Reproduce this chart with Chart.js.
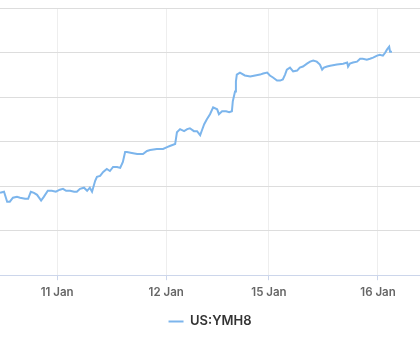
<!DOCTYPE html>
<html>
<head>
<meta charset="utf-8">
<style>
  html, body { margin: 0; padding: 0; background: #fff; }
  #wrap { width: 420px; height: 350px; }
</style>
<script src="https://cdn.jsdelivr.net/npm/chart.js@4.4.1/dist/chart.umd.min.js"></script>
</head>
<body>
<div id="wrap"><canvas id="priceChart"></canvas></div>
<script>
// hours since start of the visible window
const hours = [
  0, 0.9, 1.6, 2.2, 2.9, 3.8, 4.5, 5.6, 6.3, 6.9, 7.6, 8.3, 9.2, 9.8, 10.7, 11.6,
  12.5, 13.4, 14.1, 14.8, 15.7, 16.6, 17.2, 17.9, 18.8, 19.5, 20.1, 20.6, 21.3, 21.7,
  22.4, 23.1, 23.9, 24.6, 25.3, 26.2, 26.9, 27.5, 28.0, 28.4, 29.5, 30.7, 32.0, 32.9,
  33.6, 35.1, 36.5, 37.4, 38.0, 39.2, 39.6, 40.3, 41.2, 41.9, 42.5, 43.4, 44.1, 44.8,
  45.2, 45.7, 46.3, 47.0, 47.7, 48.6, 49.0, 49.7, 50.6, 51.3, 51.9, 52.1, 52.6, 52.8,
  53.0, 53.7, 54.8, 56.0, 57.1, 58.2, 58.9, 59.8, 60.4, 61.1, 62.0, 62.7, 63.3, 63.8,
  64.2, 64.9, 65.6, 66.5, 67.1, 67.8, 68.7, 69.4, 70.1, 70.9, 71.6, 72.1, 72.5, 73.2,
  73.9, 75.4, 76.8, 77.7, 77.9, 78.3, 79.0, 79.9, 80.6, 81.2, 82.1, 82.8, 83.5, 84.4,
  85.0, 85.7, 86.2, 86.6, 87.1, 87.3, 87.5
];
const prices = [
  25370, 25375, 25330, 25330, 25348, 25352, 25348, 25343, 25343, 25375, 25370, 25361, 25335, 25352, 25379, 25379,
  25375, 25384, 25388, 25379, 25379, 25375, 25375, 25388, 25393, 25379, 25393, 25375, 25424, 25442,
  25446, 25464, 25477, 25468, 25486, 25486, 25482, 25509, 25553, 25553, 25549, 25544, 25544, 25558,
  25562, 25567, 25567, 25575, 25580, 25589, 25642, 25656, 25647, 25656, 25660, 25647, 25647, 25629,
  25651, 25678, 25700, 25723, 25754, 25745, 25723, 25736, 25736, 25732, 25736, 25781, 25825, 25870,
  25901, 25910, 25897, 25892, 25897, 25901, 25906, 25910, 25897, 25888, 25874, 25874, 25879, 25901,
  25923, 25932, 25915, 25919, 25932, 25937, 25950, 25959, 25964, 25959, 25946, 25923, 25932, 25937,
  25941, 25946, 25950, 25955, 25937, 25950, 25955, 25959, 25972, 25972, 25968, 25972, 25977, 25986,
  25990, 25986, 25999, 26013, 26026, 26004, 26008
];
const tickHours = [12.8, 37.2, 60.2, 84.6];
const tickLabels = ['11 Jan', '12 Jan', '15 Jan', '16 Jan'];
const seriesName = 'US:YMH8';

const ctx = document.getElementById('priceChart').getContext('2d');

const chart = new Chart(ctx, {
  type: 'line',
  data: {
    datasets: [{
      label: seriesName,
      data: hours.map((h, i) => ({x: h, y: prices[i]})),
      borderColor: '#7cb5ec',
      backgroundColor: '#7cb5ec',
      borderWidth: 2,
      pointRadius: 0,
      tension: 0,
      fill: false
    }]
  },
  options: {
    responsive: true,
    maintainAspectRatio: false,
    animation: false,
    layout: {padding: {top: 8, left: 0, right: 0, bottom: 12}},
    scales: {
      x: {
        type: 'linear',
        min: 0,
        max: 94,
        afterBuildTicks: s => { s.ticks = tickHours.map(v => ({value: v})); },
        afterFit: s => { s.height += 1; },
        ticks: {
          autoSkip: false,
          maxRotation: 0,
          padding: 5,
          color: '#666666',
          font: {family: 'Inter', size: 11.5, weight: '600'},
          callback: (v, i) => tickLabels[i]
        },
        grid: {color: '#eeeeee', tickColor: '#ccd6eb', tickLength: 5},
        border: {color: '#ccd6eb', width: 1}
      },
      y: {
        min: 25000,
        max: 26200,
        afterFit: s => { s.width = 0; },
        ticks: {display: false, stepSize: 200},
        grid: {
          drawTicks: false,
          color: c => c.tick && c.tick.value === 25000 ? 'rgba(0,0,0,0)' : '#dddddd'
        },
        border: {display: false}
      }
    },
    plugins: {
      tooltip: {enabled: false},
      legend: {
        position: 'bottom',
        labels: {
          usePointStyle: true,
          pointStyle: 'line',
          pointStyleWidth: 15,
          color: '#333333',
          padding: 10,
          font: {family: 'Inter', size: 13, weight: '600'}
        }
      }
    }
  }
});
</script>
</body>
</html>
